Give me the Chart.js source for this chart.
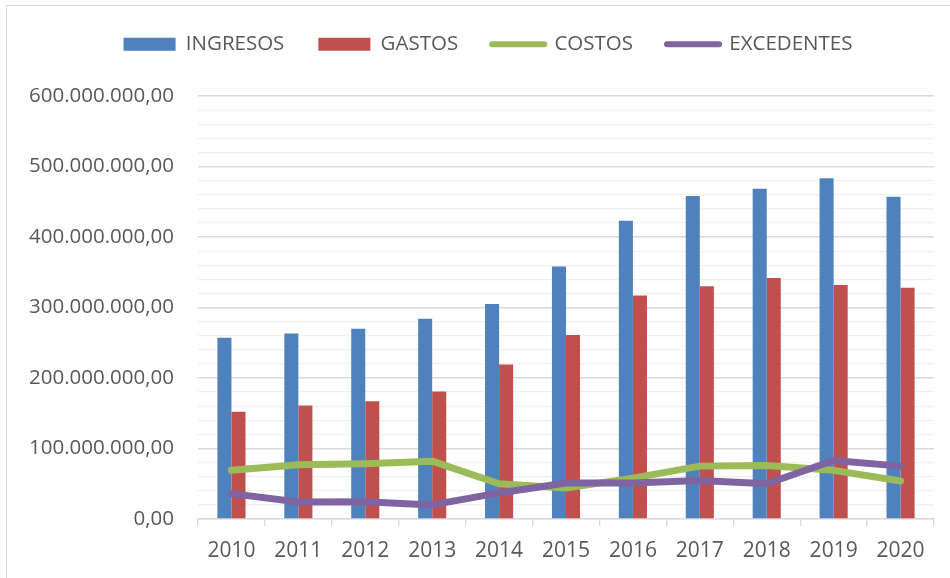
<!DOCTYPE html>
<html>
<head>
<meta charset="utf-8">
<script src="https://cdn.jsdelivr.net/npm/chart.js@4"></script>
<style>
  html, body { margin: 0; padding: 0; background: #ffffff; }
  #wrap { position: relative; width: 950px; height: 578px; overflow: hidden; }
  #frame { position: absolute; left: 6px; top: 5px; width: 960px; height: 600px;
           border-left: 1.5px solid #D9D9D9; border-top: 1.5px solid #D9D9D9; pointer-events: none; }
  canvas { position: absolute; left: 0; top: 0; }
</style>
</head>
<body>
<div id="wrap">
  <canvas id="c" width="950" height="578"></canvas>
  <div id="frame"></div>
</div>
<script>
const years = ['2010','2011','2012','2013','2014','2015','2016','2017','2018','2019','2020'];
const ingresos   = [257e6, 263e6, 270e6, 284e6, 305e6, 358e6, 423e6, 458e6, 468.5e6, 483.5e6, 457e6];
const gastos     = [152e6, 161e6, 167e6, 181e6, 219e6, 261e6, 317e6, 330e6, 342e6, 332e6, 328e6];
const costos     = [69e6, 77e6, 78.5e6, 82e6, 50e6, 44e6, 58e6, 75e6, 76e6, 69e6, 54e6];
const excedentes = [36e6, 24e6, 24.5e6, 20e6, 37e6, 51e6, 51e6, 54.5e6, 50e6, 83e6, 75e6];
const seriesNames = ['INGRESOS', 'GASTOS', 'COSTOS', 'EXCEDENTES'];
const yMax = 600e6;
const yStep = 20e6;
const yLabelStep = 100e6;

function fmt(v) {
  const s = Math.round(v).toString().replace(/\B(?=(\d{3})+(?!\d))/g, '.');
  return s + ',00';
}

const legendMargin = {
  id: 'legendMargin',
  beforeInit(chart) {
    const orig = chart.legend.fit;
    chart.legend.fit = function () {
      orig.bind(chart.legend)();
      this.height += 31.5;
    };
  },
  afterLayout(chart) {
    chart.legend.left += 17;
    chart.legend.right += 17;
  }
};

const ctx = document.getElementById('c').getContext('2d');
new Chart(ctx, {
  data: {
    labels: years,
    datasets: [
      { type: 'bar', label: seriesNames[0], data: ingresos, backgroundColor: '#4F81BD', order: 3 },
      { type: 'bar', label: seriesNames[1], data: gastos, backgroundColor: '#C0504D', order: 3 },
      { type: 'line', label: seriesNames[2], data: costos, borderColor: '#9BBB59', backgroundColor: '#9BBB59',
        borderWidth: 7, pointRadius: 0, pointHoverRadius: 0, tension: 0, borderCapStyle: 'round', borderJoinStyle: 'round', order: 1 },
      { type: 'line', label: seriesNames[3], data: excedentes, borderColor: '#8064A2', backgroundColor: '#8064A2',
        borderWidth: 7, pointRadius: 0, pointHoverRadius: 0, tension: 0, borderCapStyle: 'round', borderJoinStyle: 'round', order: 0 }
    ]
  },
  options: {
    responsive: false,
    animation: false,
    events: [],
    layout: { padding: { left: 8, right: 16, top: 0, bottom: 0 } },
    datasets: {
      bar: { barPercentage: 1.0, categoryPercentage: 0.42 }
    },
    plugins: {
      tooltip: { enabled: false },
      legend: {
        position: 'top',
        align: 'center',
        labels: {
          usePointStyle: true,
          pointStyleWidth: 52,
          boxHeight: 13,
          padding: 34,
          color: '#595959',
          font: { family: 'Open Sans', size: 20.5 },
          sort: (a, b) => a.datasetIndex - b.datasetIndex,
          generateLabels(chart) {
            return chart.data.datasets.map((ds, i) => {
              const isLine = ds.type === 'line';
              return {
                text: ds.label,
                fillStyle: isLine ? 'rgba(0,0,0,0)' : ds.backgroundColor,
                strokeStyle: isLine ? ds.borderColor : ds.backgroundColor,
                lineWidth: isLine ? 6 : 0,
                lineCap: 'round',
                pointStyle: isLine ? 'line' : 'rect',
                hidden: false,
                datasetIndex: i,
                fontColor: '#595959'
              };
            });
          }
        }
      }
    },
    scales: {
      x: {
        offset: true,
        grid: {
          offset: true,
          drawOnChartArea: false,
          drawTicks: true,
          tickLength: 7,
          color: '#D9D9D9',
          lineWidth: 1.3
        },
        border: { display: true, color: '#D9D9D9', width: 1.3 },
        ticks: {
          color: '#595959',
          font: { family: 'Open Sans', size: 21 },
          padding: 12,
          maxRotation: 0,
          autoSkip: false
        },
        afterFit(scale) { scale.height = 59; }
      },
      y: {
        min: 0,
        max: yMax,
        border: { display: false },
        grid: {
          drawTicks: false,
          color: (c) => (c.tick && c.tick.value % yLabelStep === 0) ? '#D9D9D9' : '#F0F0F0',
          lineWidth: (c) => (c.tick && c.tick.value % yLabelStep === 0) ? 1.5 : 1.2
        },
        ticks: {
          stepSize: yStep,
          autoSkip: false,
          padding: 24,
          color: '#595959',
          font: { family: 'Open Sans', size: 20.5 },
          callback: (v) => (v % yLabelStep === 0) ? fmt(v) : ''
        },
        afterFit(scale) { scale.width = 190; }
      }
    }
  },
  plugins: [legendMargin]
});
</script>
</body>
</html>
